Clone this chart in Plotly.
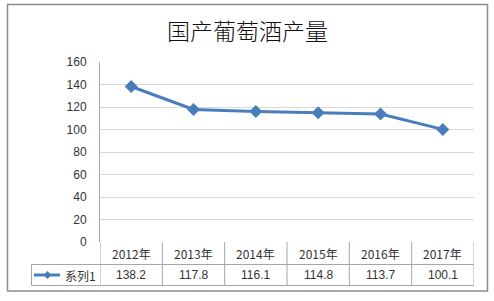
import plotly.graph_objects as go

title = "国产葡萄酒产量"
categories = ["2012年", "2013年", "2014年", "2015年", "2016年", "2017年"]
series_name = "系列1"
values = [138.2, 117.8, 116.1, 114.8, 113.7, 100.1]
y_ticks = [0, 20, 40, 60, 80, 100, 120, 140, 160]

W, H = 494, 301
def px(x): return x / W
def py(y): return 1 - y / H

LINE = "#4a7ebb"
GRID = "#d9d9d9"
TBL = "#a6a6a6"
TXT = "#333333"
FONT = "Liberation Sans"
CJK = "Noto Sans CJK SC"

xs = list(range(len(categories)))

fig = go.Figure()
fig.add_trace(go.Scatter(
    x=xs, y=values, mode="lines+markers",
    line=dict(color=LINE, width=3),
    marker=dict(symbol="diamond", size=10, color=LINE),
    name=series_name, showlegend=False, hoverinfo="skip",
))

shapes = []
annotations = []

# outer border
shapes.append(dict(type="rect", xref="paper", yref="paper",
                   x0=px(7.5), x1=px(487.5), y0=py(291), y1=py(4.5),
                   line=dict(color="#8c8c8c", width=1.5)))

# table horizontal lines
for yy in [264.5, 285.5]:
    shapes.append(dict(type="line", xref="paper", yref="paper",
                       x0=px(31.5), x1=px(474), y0=py(yy), y1=py(yy),
                       line=dict(color=TBL, width=1)))
shapes.append(dict(type="line", xref="paper", yref="paper",
                   x0=px(31.5), x1=px(31.5), y0=py(264.5), y1=py(285.5),
                   line=dict(color=TBL, width=1)))
# table vertical lines at category boundaries
for i in range(len(categories) + 1):
    shapes.append(dict(type="line", xref="x", yref="paper",
                       x0=i - 0.5, x1=i - 0.5, y0=py(285.5), y1=py(242),
                       line=dict(color=TBL, width=1)))

# header and value cells
for i, (c, v) in enumerate(zip(categories, values)):
    annotations.append(dict(x=i, xref="x", y=py(253), yref="paper",
                            text=c, showarrow=False, xanchor="center", yanchor="middle",
                            font=dict(family=CJK, size=12, color=TXT)))
    annotations.append(dict(x=i, xref="x", y=py(275), yref="paper",
                            text=f"{v:.1f}", showarrow=False, xanchor="center", yanchor="middle",
                            font=dict(family=FONT, size=12, color=TXT)))

# legend key in table
shapes.append(dict(type="line", xref="paper", yref="paper",
                   x0=px(34), x1=px(60), y0=py(275), y1=py(275),
                   line=dict(color=LINE, width=3)))
cx, cy, r = 47.5, 275, 4
shapes.append(dict(type="path", xref="paper", yref="paper",
                   path=f"M {px(cx-r)} {py(cy)} L {px(cx)} {py(cy-r)} L {px(cx+r)} {py(cy)} L {px(cx)} {py(cy+r)} Z",
                   fillcolor=LINE, line=dict(color=LINE, width=0)))
annotations.append(dict(x=px(63), xref="paper", y=py(275), yref="paper",
                        text=series_name, showarrow=False, xanchor="left", yanchor="middle",
                        font=dict(family=CJK, size=12, color=TXT)))

# title
annotations.append(dict(x=px(248), xref="paper", y=py(30), yref="paper",
                        text=title, showarrow=False, xanchor="center", yanchor="middle",
                        font=dict(family=CJK, size=23, color="#111111", weight=300)))

fig.update_layout(
    template="none",
    width=W, height=H, autosize=False,
    margin=dict(l=0, r=0, t=0, b=0, pad=0),
    paper_bgcolor="white", plot_bgcolor="white",
    shapes=shapes, annotations=annotations,
    xaxis=dict(domain=[px(100), px(474)], range=[-0.5, len(categories) - 0.5],
               showticklabels=False, showgrid=False, zeroline=False,
               showline=False, ticks="", automargin=False),
    yaxis=dict(domain=[py(242), py(62)], range=[0, 160],
               tickvals=y_ticks, showgrid=True, gridcolor=GRID, gridwidth=1,
               zeroline=False, showline=True, linecolor=TBL, linewidth=1,
               ticks="", ticklabelstandoff=10, automargin=False,
               tickfont=dict(family=FONT, size=12, color=TXT)),
)

fig.write_html("out.html",
               post_script="document.body.style.margin='0';document.body.style.overflow='hidden';")
